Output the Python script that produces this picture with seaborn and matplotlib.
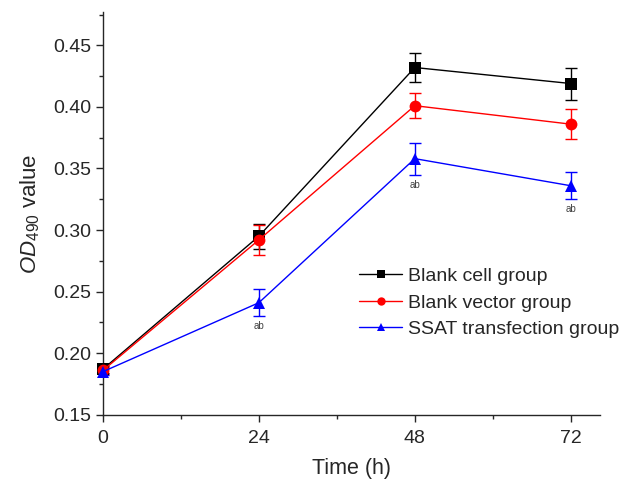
import numpy as np
import pandas as pd
import matplotlib
matplotlib.use("Agg")
import matplotlib.pyplot as plt
import seaborn as sns
from matplotlib.ticker import MultipleLocator

time_h = [0, 24, 48, 72]
groups = ["Blank cell group", "Blank vector group", "SSAT transfection group"]
blank_cell = [0.187, 0.295, 0.432, 0.419]
blank_cell_err = [0.003, 0.010, 0.012, 0.013]
blank_vector = [0.186, 0.292, 0.401, 0.386]
blank_vector_err = [0.003, 0.012, 0.010, 0.012]
ssat = [0.185, 0.241, 0.358, 0.336]
ssat_err = [0.003, 0.011, 0.013, 0.011]
sig_labels = ["", "ab", "ab", "ab"]

colors = ["black", "red", "blue"]
markers = ["s", "o", "^"]

sns.set_style("ticks")
plt.rcParams["font.family"] = ["Liberation Sans", "DejaVu Sans"]
plt.rcParams["mathtext.fontset"] = "custom"
plt.rcParams["mathtext.it"] = "Liberation Sans:italic"
plt.rcParams["mathtext.rm"] = "Liberation Sans"

df = pd.DataFrame({
    "Time": time_h * 3,
    "OD": blank_cell + blank_vector + ssat,
    "Group": [g for g in groups for _ in time_h],
})

fig = plt.figure(figsize=(6.39, 4.84), dpi=100)
ax = fig.add_axes([0.161, 0.143, 0.778, 0.832])

sns.lineplot(data=df, x="Time", y="OD", hue="Group", style="Group",
             palette=colors, markers=markers, dashes=False, markersize=8.5,
             markeredgewidth=0, linewidth=1, ax=ax, clip_on=False, zorder=3)

for vals, errs, c in zip([blank_cell, blank_vector, ssat],
                         [blank_cell_err, blank_vector_err, ssat_err], colors):
    ax.errorbar(time_h, vals, yerr=errs, fmt="none", ecolor=c,
                elinewidth=1, capsize=4, capthick=1, zorder=2)

for t, v, e, s in zip(time_h, ssat, ssat_err, sig_labels):
    if s:
        ax.text(t, v - e - 0.004, s, ha="center", va="top", fontsize=7, color="#404040")

ax.set_xlim(0, 76.5)
ax.set_ylim(0.15, 0.477)
ax.set_xticks(time_h)
ax.xaxis.set_minor_locator(MultipleLocator(12))
ax.yaxis.set_major_locator(MultipleLocator(0.05))
ax.yaxis.set_minor_locator(MultipleLocator(0.025))
ax.yaxis.set_major_formatter(matplotlib.ticker.FormatStrFormatter("%.2f"))
ax.tick_params(which="major", length=5, width=1, labelsize=14, direction="out")
ax.tick_params(axis="x", which="major", pad=6)
ax.tick_params(which="minor", length=3, width=1, direction="out")
for side in ["left", "bottom"]:
    ax.spines[side].set_linewidth(1)
sns.despine(ax=ax)

ax.set_xlabel("Time (h)", fontsize=15.5, labelpad=8)
ax.set_ylabel(r"$\mathit{OD}_{490}$ value", fontsize=16, labelpad=8)

handles, labels = ax.get_legend_handles_labels()
for h in handles:
    h.set_markersize(6)
ax.legend(handles, labels, loc="upper left", bbox_to_anchor=(0.50, 0.385),
          frameon=False, fontsize=14, handlelength=2.2, handletextpad=0.3,
          labelspacing=0.45, borderaxespad=0)

fig.savefig("out.png", dpi=100)
